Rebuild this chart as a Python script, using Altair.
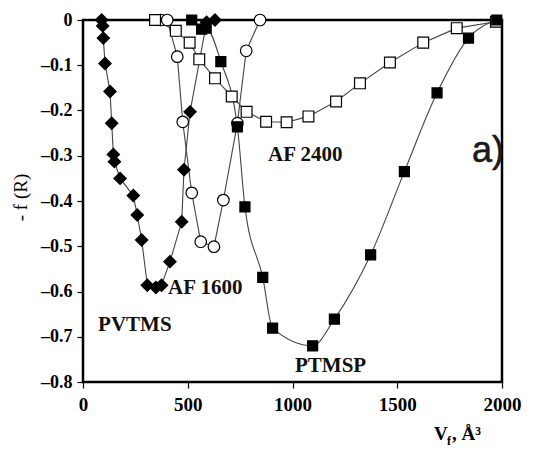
import altair as alt
import pandas as pd

# ---- data ----
pvtms_x = [89, 94, 97, 105, 129, 137, 145, 150, 177, 240, 259, 280, 307, 348, 375, 415, 471, 482, 511, 590, 630]
pvtms_y = [0, -0.013, -0.04, -0.096, -0.158, -0.228, -0.297, -0.313, -0.35, -0.388, -0.431, -0.486, -0.586, -0.591, -0.586, -0.534, -0.446, -0.331, -0.203, -0.005, 0]

af1600_x = [372, 402, 450, 476, 519, 562, 625, 670, 737, 779, 845]
af1600_y = [0, 0, -0.081, -0.225, -0.382, -0.49, -0.501, -0.398, -0.228, -0.068, 0]

af2400_x = [344, 443, 509, 555, 630, 710, 781, 874, 972, 1076, 1208, 1322, 1465, 1624, 1784, 1971]
af2400_y = [0, -0.024, -0.05, -0.087, -0.129, -0.169, -0.203, -0.225, -0.226, -0.213, -0.18, -0.14, -0.094, -0.05, -0.018, -0.004]

ptmsp_x = [519, 566, 588, 658, 737, 773, 858, 905, 1096, 1200, 1373, 1534, 1690, 1840, 1975]
ptmsp_y = [0, -0.02, -0.018, -0.092, -0.236, -0.413, -0.569, -0.681, -0.72, -0.661, -0.519, -0.335, -0.161, -0.04, 0]

series_names = ["PVTMS", "AF 1600", "AF 2400", "PTMSP"]
series_shapes = ["diamond", "circle", "square", "square"]
series_fills = ["black", "white", "white", "black"]

label_text = ["AF 2400", "AF 1600", "PVTMS", "PTMSP"]
label_x = [883, 406, 72, 1012]
label_y = [-0.298, -0.592, -0.674, -0.765]

x_ticks = [0, 500, 1000, 1500, 2000]
y_ticks = [0, -0.1, -0.2, -0.3, -0.4, -0.5, -0.6, -0.7, -0.8]

rows = []
for name, xs, ys in zip(series_names,
                        [pvtms_x, af1600_x, af2400_x, ptmsp_x],
                        [pvtms_y, af1600_y, af2400_y, ptmsp_y]):
    for i, (xv, yv) in enumerate(zip(xs, ys)):
        rows.append({"series": name, "x": xv, "y": yv, "i": i})
df = pd.DataFrame(rows)
labels = pd.DataFrame({"text": label_text, "x": label_x, "y": label_y})

W, H = 419, 362
SERIF = "Liberation Serif"

xs = alt.Scale(domain=[0, 2000], nice=False)
ys = alt.Scale(domain=[-0.8, 0], nice=False)

xenc = alt.X("x:Q", scale=xs, axis=alt.Axis(
    values=x_ticks, title=None, format="d", labelPadding=7,
    labelFont=SERIF, labelFontWeight="bold", labelFontSize=19, labelColor="black"))
yenc = alt.Y("y:Q", scale=ys, axis=alt.Axis(
    values=y_ticks, title="- f (R)", labelPadding=5,
    labelFont=SERIF, labelFontWeight="bold", labelFontSize=18, labelColor="black",
    labelExpr="datum.value == 0 ? '0' : '\u2013' + format(-datum.value, '.1f')",
    titleFont=SERIF, titleColor="black", titleFontWeight="normal", titleFontSize=19,
    titleX=-63, titleY=177, titleAngle=-90, titleAlign="center", titleBaseline="middle"))

base = alt.Chart(df)

lines_lin = base.transform_filter(alt.datum.series != "PTMSP").mark_line(
    color="#444", strokeWidth=1.1).encode(
    x=xenc, y=yenc, detail="series:N", order="i:Q")
lines_smooth = base.transform_filter(alt.datum.series == "PTMSP").mark_line(
    color="#444", strokeWidth=1.1, interpolate="monotone").encode(
    x=xenc, y=yenc, order="i:Q")

pts = base.mark_point(opacity=1, strokeWidth=1.2, stroke="black").encode(
    x=xenc, y=yenc,
    shape=alt.Shape("series:N", scale=alt.Scale(domain=series_names, range=series_shapes), legend=None),
    fill=alt.Fill("series:N", scale=alt.Scale(domain=series_names, range=series_fills), legend=None),
    size=alt.Size("series:N", scale=alt.Scale(domain=series_names, range=[150, 100, 110, 150]), legend=None),
)

txt = alt.Chart(labels).mark_text(font=SERIF, fontWeight="bold", fontSize=21,
                                  align="left", baseline="middle", color="#111").encode(
    x=alt.X("x:Q", scale=xs), y=alt.Y("y:Q", scale=ys), text="text:N")

panel_a = alt.Chart(pd.DataFrame({"t": ["a)"]})).mark_text(
    font="Liberation Sans", fontSize=36, align="left", baseline="middle", color="#1a1a1a",
    stroke="#1a1a1a", strokeWidth=0.6).encode(
    x=alt.value(389), y=alt.value(131), text="t:N")

xt_V = alt.Chart(pd.DataFrame({"t": ["V"]})).mark_text(
    font=SERIF, fontWeight="bold", fontSize=19, align="left", baseline="alphabetic", color="black").encode(
    x=alt.value(351), y=alt.value(420), text="t:N")
xt_f = alt.Chart(pd.DataFrame({"t": ["f"]})).mark_text(
    font=SERIF, fontWeight="bold", fontSize=12, align="left", baseline="alphabetic", color="black").encode(
    x=alt.value(364), y=alt.value(425), text="t:N")
xt_A = alt.Chart(pd.DataFrame({"t": [", Å³"]})).mark_text(
    font=SERIF, fontWeight="bold", fontSize=19, align="left", baseline="alphabetic", color="black").encode(
    x=alt.value(369), y=alt.value(420), text="t:N")

chart = alt.layer(lines_lin, lines_smooth, pts, txt, panel_a, xt_V, xt_f, xt_A).properties(
    width=W, height=H,
    autosize=alt.AutoSizeParams(type="none"),
    padding={"left": 83, "top": 20, "right": 39, "bottom": 70},
    background="white",
).configure_view(stroke="black", strokeWidth=2.5).configure_axis(
    grid=False, domain=False, tickSize=6, tickColor="black", tickWidth=1.2,
    labelFlush=False,
)

chart.save("out.html", embed_options={"renderer": "svg", "actions": False})
